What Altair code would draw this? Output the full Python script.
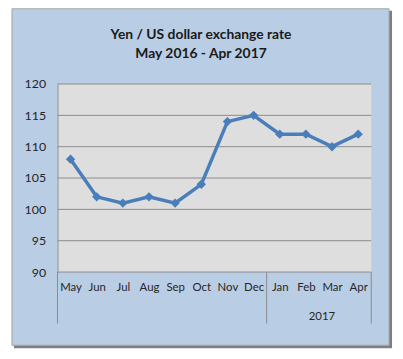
import altair as alt
import pandas as pd

months = ["May", "Jun", "Jul", "Aug", "Sep", "Oct", "Nov", "Dec", "Jan", "Feb", "Mar", "Apr"]
rates = [108, 102, 101, 102, 101, 104, 114, 115, 112, 112, 110, 112]
y_ticks = [90, 95, 100, 105, 110, 115, 120]
separators = [-0.5, 7.5, 11.5]
year_groups = [{"label": "2017", "center": 9.5}]
title_lines = ["Yen / US dollar exchange rate", "May 2016 - Apr 2017"]

W, H = 317, 190
FONT = "Lato"
BLUE_BG = "#b9cde5"
PLOT_BG = "#dedede"
GRID = "#8c8c8c"
LINE = "#4a7ebb"
TXT = "#262626"

df = pd.DataFrame({"idx": list(range(len(months))), "month": months, "rate": rates})
ticks_df = pd.DataFrame({"v": y_ticks})
sep_df = pd.DataFrame({"s": separators})
year_df = pd.DataFrame(year_groups)

xscale = alt.Scale(domain=[-0.5, 11.5], nice=False, zero=False)
yscale = alt.Scale(domain=[90, 120], nice=False, zero=False)

label_expr = "[" + ",".join("'%s'" % m for m in months) + "][datum.value]"

xaxis = alt.Axis(values=list(range(len(months))), labelExpr=label_expr,
                 grid=False, ticks=False, domain=False, title=None,
                 labelFont=FONT, labelFontSize=11.5, labelColor=TXT,
                 labelPadding=10, labelFlush=False, labelOverlap=False, zindex=2)
yaxis = alt.Axis(values=y_ticks, grid=False, ticks=False, domain=True,
                 domainColor=GRID, title=None, labelFont=FONT,
                 labelFontSize=12.5, labelColor=TXT, labelPadding=12, zindex=2)

one = pd.DataFrame({"a": [0]})

shadow = alt.Chart(one).mark_rect(fill="#7f7f7f", clip=False).encode(
    x=alt.value(-44), x2=alt.value(338), y=alt.value(-74), y2=alt.value(267))
box = alt.Chart(one).mark_rect(fill=BLUE_BG, stroke="#a6a6a6", strokeWidth=1, clip=False).encode(
    x=alt.value(-46), x2=alt.value(335), y=alt.value(-76), y2=alt.value(264))
plotbg = alt.Chart(one).mark_rect(fill=PLOT_BG).encode(
    x=alt.value(0), x2=alt.value(W), y=alt.value(0), y2=alt.value(H))

grid = alt.Chart(ticks_df).mark_rule(color=GRID, strokeWidth=1).encode(
    y=alt.Y("v:Q", scale=yscale, axis=yaxis),
    x=alt.value(0), x2=alt.value(W))

seps = alt.Chart(sep_df).mark_rule(color=GRID, strokeWidth=1, clip=False).encode(
    x=alt.X("s:Q", scale=xscale, axis=xaxis),
    y=alt.value(H), y2=alt.value(242))

line = alt.Chart(df).mark_line(
    color=LINE, strokeWidth=3.5,
    point=alt.OverlayMarkDef(shape="diamond", size=90, filled=True, color=LINE)
).encode(
    x=alt.X("idx:Q", scale=xscale, axis=xaxis),
    y=alt.Y("rate:Q", scale=yscale, axis=yaxis),
)

year = alt.Chart(year_df).mark_text(font=FONT, fontSize=11.5, color=TXT,
                                    baseline="middle", clip=False, dx=3).encode(
    x=alt.X("center:Q", scale=xscale, axis=xaxis),
    y=alt.value(235),
    text="label:N")

t1 = alt.Chart(pd.DataFrame({"t": [title_lines[0]]})).mark_text(
    font=FONT, fontSize=14, fontWeight="bold", color="#1a1a1a",
    baseline="alphabetic", clip=False).encode(
    x=alt.value(145), y=alt.value(-45), text="t:N")
t2 = alt.Chart(pd.DataFrame({"t": [title_lines[1]]})).mark_text(
    font=FONT, fontSize=14, fontWeight="bold", color="#1a1a1a",
    baseline="alphabetic", clip=False).encode(
    x=alt.value(145), y=alt.value(-26), text="t:N")

chart = alt.layer(shadow, box, plotbg, grid, seps, line, year, t1, t2).properties(
    width=W, height=H,
    autosize=alt.AutoSizeParams(type="none"),
    padding={"left": 50, "top": 75, "right": 24, "bottom": 80},
).configure_view(stroke=None).configure(background="white")

chart.save("out.html", embed_options={"renderer": "svg", "actions": False})
